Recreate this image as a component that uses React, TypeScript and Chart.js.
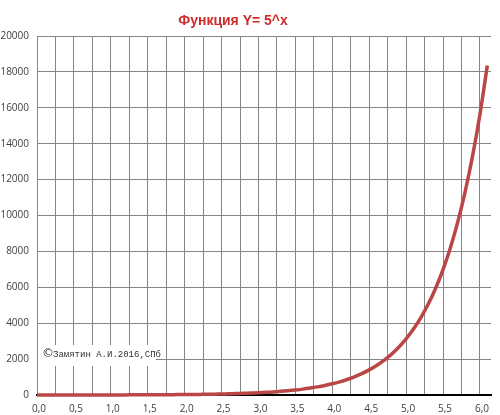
import React, { useEffect, useRef } from "react";
import { Chart, registerables } from "chart.js";

Chart.register(...registerables);

const xValues = [
  0.0, 0.1, 0.2, 0.3, 0.4, 0.5, 0.6, 0.7, 0.8, 0.9,
  1.0, 1.1, 1.2, 1.3, 1.4, 1.5, 1.6, 1.7, 1.8, 1.9,
  2.0, 2.1, 2.2, 2.3, 2.4, 2.5, 2.6, 2.7, 2.8, 2.9,
  3.0, 3.1, 3.2, 3.3, 3.4, 3.5, 3.6, 3.7, 3.8, 3.9,
  4.0, 4.1, 4.2, 4.3, 4.4, 4.5, 4.6, 4.7, 4.8, 4.9,
  5.0, 5.1, 5.2, 5.3, 5.4, 5.5, 5.6, 5.7, 5.8, 5.9,
  6.0, 6.1,
];

const yValues = [
  1, 1.17, 1.38, 1.62, 1.9, 2.24, 2.63, 3.09, 3.62, 4.26,
  5, 5.87, 6.9, 8.1, 9.52, 11.2, 13.1, 15.4, 18.1, 21.3,
  25, 29.4, 34.5, 40.5, 47.6, 55.9, 65.7, 77.1, 90.6, 106,
  125, 147, 173, 203, 238, 280, 328, 386, 453, 532,
  625, 734, 862, 1013, 1190, 1398, 1642, 1928, 2265, 2661,
  3125, 3671, 4312, 5065, 5949, 6988, 8208, 9642, 11326, 13304,
  15625, 18353,
];

const xGridValues = [
  0, 0.25, 0.5, 0.75, 1, 1.25, 1.5, 1.75, 2, 2.25, 2.5, 2.75, 3,
  3.25, 3.5, 3.75, 4, 4.25, 4.5, 4.75, 5, 5.25, 5.5, 5.75, 6,
];

const xTickLabels = [
  "0,0", "0,5", "1,0", "1,5", "2,0", "2,5", "3,0",
  "3,5", "4,0", "4,5", "5,0", "5,5", "6,0",
];

const titleText = "Функция Y= 5^x";
const copyrightSymbol = "©";
const copyrightText = "Замятин А.И.2016,СПб";

export default function App() {
  const canvasRef = useRef<HTMLCanvasElement | null>(null);

  useEffect(() => {
    if (!canvasRef.current) return;

    const overlay = {
      id: "overlay",
      afterDraw(chart: any) {
        const ctx = chart.ctx;
        ctx.save();
        ctx.font = "bold 14px 'Liberation Sans', Arial, sans-serif";
        ctx.fillStyle = "#D02A2A";
        ctx.textAlign = "center";
        ctx.textBaseline = "middle";
        ctx.fillText(titleText, 233, 21);
        ctx.restore();
      },
      afterDatasetsDraw(chart: any) {
        const ctx = chart.ctx;
        ctx.save();
        ctx.fillStyle = "#ffffff";
        ctx.fillRect(38, 345, 118, 21);
        ctx.fillStyle = "#333333";
        ctx.textBaseline = "middle";
        ctx.textAlign = "left";
        ctx.font = "12px 'DejaVu Sans', sans-serif";
        ctx.fillText(copyrightSymbol, 42, 354);
        ctx.font = "9px 'Liberation Mono', monospace";
        ctx.fillText(copyrightText, 53, 355);
        ctx.restore();
      },
    };

    const chart = new Chart(canvasRef.current, {
      type: "line",
      data: {
        datasets: [
          {
            data: xValues.map((x, i) => ({ x, y: yValues[i] })),
            borderColor: "#BA4745",
            borderWidth: 3.5,
            pointRadius: 0,
            tension: 0.3,
            fill: false,
            clip: 4,
          },
        ],
      },
      options: {
        responsive: false,
        animation: false,
        devicePixelRatio: 1,
        layout: { padding: { top: 36, left: 0, right: 9, bottom: 0 } },
        plugins: {
          legend: { display: false },
          title: { display: false },
          tooltip: { enabled: false },
        },
        scales: {
          x: {
            type: "linear",
            min: 0,
            max: 6.15,
            afterBuildTicks(scale: any) {
              scale.ticks = xGridValues.map((v) => ({ value: v }));
            },
            afterFit(scale: any) {
              scale.height = 20;
            },
            grid: {
              color: "#858585",
              lineWidth: 1,
              drawTicks: false,
            },
            border: { display: true, color: "#000000", width: 2 },
            ticks: {
              autoSkip: false,
              maxRotation: 0,
              padding: 8,
              labelOffset: 2,
              color: "#404040",
              font: { size: 10, family: "'Open Sans', sans-serif" },
              callback(value: any) {
                const v = Number(value);
                const idx = Math.round(v * 2);
                if (Math.abs(v * 2 - idx) > 1e-6) return "";
                return xTickLabels[idx] ?? "";
              },
            },
          },
          y: {
            type: "linear",
            min: 0,
            max: 20000,
            afterFit(scale: any) {
              scale.width = 37;
            },
            grid: {
              color: "#858585",
              lineWidth: 1,
              drawTicks: false,
            },
            border: { display: true, color: "#858585", width: 1 },
            ticks: {
              stepSize: 2000,
              padding: 8,
              color: "#404040",
              font: { size: 10, family: "'Open Sans', sans-serif" },
              callback(value: any) {
                return String(value);
              },
            },
          },
        },
      },
      plugins: [overlay],
    });

    return () => chart.destroy();
  }, []);

  return (
    <div
      style={{
        position: "fixed",
        left: 0,
        top: 0,
        width: 500,
        height: 415,
        background: "#ffffff",
      }}
    >
      <canvas ref={canvasRef} width={500} height={415} />
    </div>
  );
}
